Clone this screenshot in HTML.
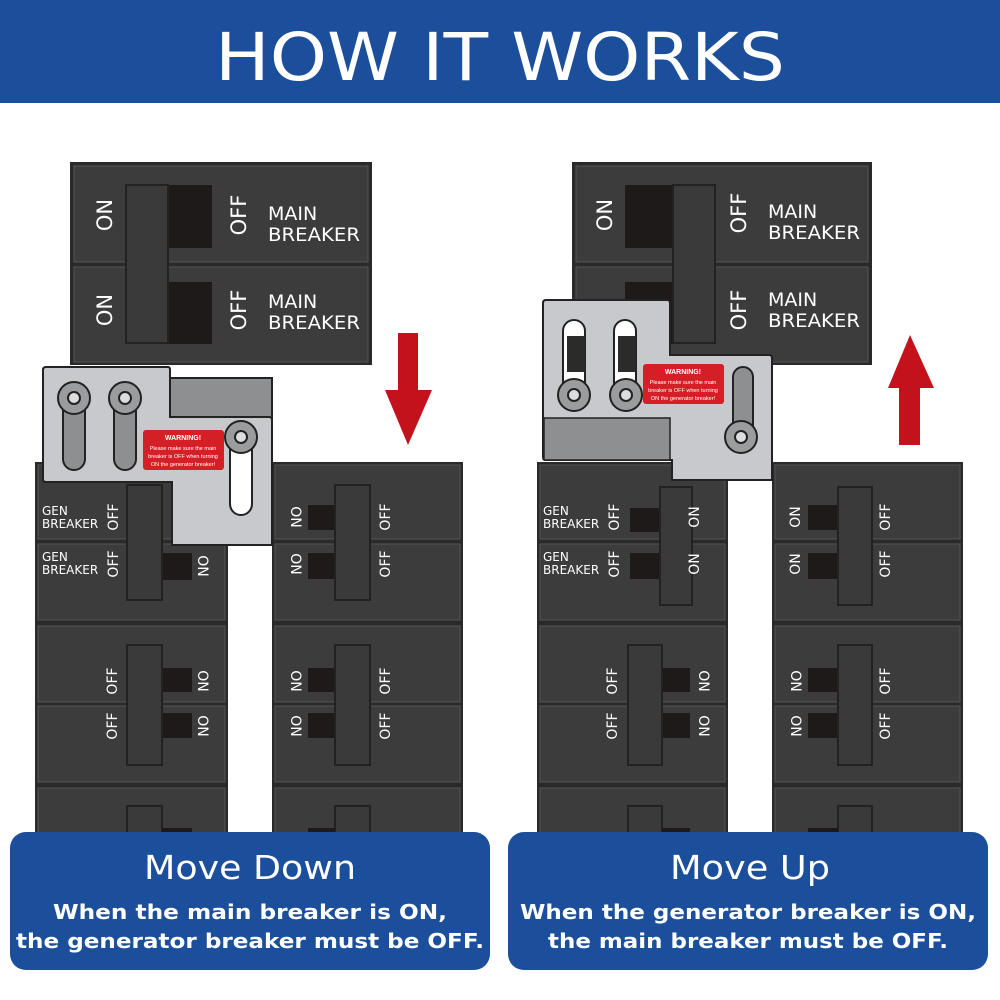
<!DOCTYPE html>
<html><head><meta charset="utf-8"><style>
html,body{margin:0;padding:0;background:#fff}
svg{display:block}
text{font-family:"DejaVu Sans","Liberation Sans",sans-serif}
.l{font-family:"Liberation Sans",sans-serif}
</style></head><body>
<svg width="1000" height="1000" viewBox="0 0 1000 1000" xmlns="http://www.w3.org/2000/svg">
<rect x="0" y="0" width="1000" height="103" fill="#1b4f9c"/>
<text x="500" y="80" text-anchor="middle" font-size="66" fill="#fff" textLength="570" lengthAdjust="spacingAndGlyphs">HOW IT WORKS</text>

<!-- ============ LEFT PANEL ============ -->
<rect x="70" y="162" width="302" height="203" fill="#2a2a2a"/>
<rect x="74" y="166" width="294" height="96" fill="#3b3c3b" stroke="#555" stroke-width="1"/>
<rect x="74" y="267" width="294" height="95" fill="#3b3c3b" stroke="#555" stroke-width="1"/>
<rect x="168" y="185" width="44" height="63" fill="#1e1a1a"/>
<rect x="168" y="282" width="44" height="62" fill="#1e1a1a"/>
<rect x="126" y="185" width="42" height="158" fill="#3a3a3a" stroke="#222" stroke-width="2"/>
<text transform="translate(112,215) rotate(-90)" text-anchor="middle" font-size="21" fill="#fff">ON</text>
<text transform="translate(112,310) rotate(-90)" text-anchor="middle" font-size="21" fill="#fff">ON</text>
<text transform="translate(246,215) rotate(-90)" text-anchor="middle" font-size="21" fill="#fff">OFF</text>
<text transform="translate(246,310) rotate(-90)" text-anchor="middle" font-size="21" fill="#fff">OFF</text>
<text x="268" y="220" font-size="19" fill="#fff">MAIN</text>
<text x="268" y="241" font-size="19" fill="#fff" textLength="92" lengthAdjust="spacingAndGlyphs">BREAKER</text>
<text x="268" y="308" font-size="19" fill="#fff">MAIN</text>
<text x="268" y="329" font-size="19" fill="#fff" textLength="92" lengthAdjust="spacingAndGlyphs">BREAKER</text>

<rect x="35" y="462" width="193" height="380" fill="#2a2a2a"/>
<rect x="272" y="462" width="191" height="380" fill="#2a2a2a"/>
<g fill="#3b3c3b" stroke="#555" stroke-width="1">
<rect x="38" y="465" width="187" height="74"/><rect x="38" y="544" width="187" height="76"/>
<rect x="38" y="626" width="187" height="76"/><rect x="38" y="706" width="187" height="76"/>
<rect x="38" y="788" width="187" height="60"/>
<rect x="275" y="465" width="185" height="74"/><rect x="275" y="544" width="185" height="76"/>
<rect x="275" y="626" width="185" height="76"/><rect x="275" y="706" width="185" height="76"/>
<rect x="275" y="788" width="185" height="60"/>
</g>
<rect x="162" y="553" width="30" height="27" fill="#1e1a1a"/>
<rect x="127" y="485" width="35" height="115" fill="#3a3a3a" stroke="#222" stroke-width="2"/>
<g font-size="12" fill="#fff">
<text x="42" y="515">GEN</text><text x="42" y="528">BREAKER</text>
<text x="42" y="561">GEN</text><text x="42" y="574">BREAKER</text>
</g>
<g font-size="14" fill="#fff" text-anchor="middle">
<text transform="translate(118,517) rotate(-90)">OFF</text>
<text transform="translate(118,564) rotate(-90)">OFF</text>
<text transform="translate(198,566) rotate(90)">ON</text>
<text transform="translate(117,681) rotate(-90)">OFF</text>
<text transform="translate(117,726) rotate(-90)">OFF</text>
<text transform="translate(198,681) rotate(90)">ON</text>
<text transform="translate(198,726) rotate(90)">ON</text>
<text transform="translate(291,517) rotate(90)">ON</text><text transform="translate(291,564) rotate(90)">ON</text>
<text transform="translate(291,681) rotate(90)">ON</text><text transform="translate(291,726) rotate(90)">ON</text>
<text transform="translate(390,517) rotate(-90)">OFF</text><text transform="translate(390,564) rotate(-90)">OFF</text>
<text transform="translate(390,681) rotate(-90)">OFF</text><text transform="translate(390,726) rotate(-90)">OFF</text>
</g>
<rect x="162" y="668" width="30" height="24" fill="#1e1a1a"/><rect x="162" y="713" width="30" height="25" fill="#1e1a1a"/>
<rect x="127" y="645" width="35" height="120" fill="#3a3a3a" stroke="#222" stroke-width="2"/>
<rect x="127" y="806" width="35" height="40" fill="#3a3a3a" stroke="#222" stroke-width="2"/><rect x="162" y="828" width="30" height="15" fill="#1e1a1a"/>
<rect x="308" y="505" width="27" height="25" fill="#1e1a1a"/><rect x="308" y="553" width="27" height="26" fill="#1e1a1a"/>
<rect x="335" y="485" width="35" height="115" fill="#3a3a3a" stroke="#222" stroke-width="2"/>
<rect x="308" y="668" width="27" height="24" fill="#1e1a1a"/><rect x="308" y="713" width="27" height="25" fill="#1e1a1a"/>
<rect x="335" y="645" width="35" height="120" fill="#3a3a3a" stroke="#222" stroke-width="2"/>
<rect x="335" y="806" width="35" height="40" fill="#3a3a3a" stroke="#222" stroke-width="2"/><rect x="308" y="828" width="27" height="15" fill="#1e1a1a"/>

<rect x="170" y="378" width="102" height="40" fill="#8d8f91" stroke="#222" stroke-width="2"/>
<path d="M46,367 H168 Q170,367 170,370 V417 H269 Q272,417 272,420 V545 H172 V482 H46 Q43,482 43,479 V370 Q43,367 46,367Z" fill="#c7c9cc" stroke="#222" stroke-width="2"/>
<g stroke="#222" stroke-width="2">
<rect x="63" y="398" width="22" height="72" rx="11" fill="#8d8f91"/>
<rect x="114" y="398" width="22" height="72" rx="11" fill="#8d8f91"/>
<rect x="230" y="437" width="22" height="78" rx="11" fill="#fff"/>
<circle cx="74" cy="398" r="16" fill="#9a9c9e"/><circle cx="125" cy="398" r="16" fill="#9a9c9e"/><circle cx="241" cy="437" r="16" fill="#9a9c9e"/>
<circle cx="74" cy="398" r="6" fill="#ddd"/><circle cx="125" cy="398" r="6" fill="#ddd"/><circle cx="241" cy="437" r="6" fill="#ddd"/>
</g>
<rect x="143" y="430" width="81" height="40" rx="3" fill="#d51f27"/>
<g class="l" fill="#fff" text-anchor="middle">
<text class="l" x="183" y="440" font-size="7" font-weight="bold">WARNING!</text>
<text class="l" x="183" y="450" font-size="5.5">Please make sure the main</text>
<text class="l" x="183" y="458" font-size="5.5">breaker is OFF when turning</text>
<text class="l" x="183" y="466" font-size="5.5">ON the generator breaker!</text>
</g>
<path d="M398,333 H418 V390 H432 L408,445 L385,390 H398Z" fill="#c3121b"/>

<!-- ============ RIGHT PANEL ============ -->
<rect x="572" y="162" width="300" height="203" fill="#2a2a2a"/>
<rect x="576" y="166" width="292" height="96" fill="#3b3c3b" stroke="#555" stroke-width="1"/>
<rect x="576" y="267" width="292" height="95" fill="#3b3c3b" stroke="#555" stroke-width="1"/>
<rect x="625" y="185" width="48" height="63" fill="#1e1a1a"/>
<rect x="625" y="282" width="48" height="62" fill="#1e1a1a"/>
<rect x="673" y="185" width="42" height="158" fill="#3a3a3a" stroke="#222" stroke-width="2"/>
<text transform="translate(612,215) rotate(-90)" text-anchor="middle" font-size="21" fill="#fff">ON</text>
<text transform="translate(746,213) rotate(-90)" text-anchor="middle" font-size="21" fill="#fff">OFF</text>
<text transform="translate(746,310) rotate(-90)" text-anchor="middle" font-size="21" fill="#fff">OFF</text>
<text x="768" y="218" font-size="19" fill="#fff">MAIN</text>
<text x="768" y="239" font-size="19" fill="#fff" textLength="92" lengthAdjust="spacingAndGlyphs">BREAKER</text>
<text x="768" y="306" font-size="19" fill="#fff">MAIN</text>
<text x="768" y="327" font-size="19" fill="#fff" textLength="92" lengthAdjust="spacingAndGlyphs">BREAKER</text>

<rect x="537" y="462" width="191" height="380" fill="#2a2a2a"/>
<rect x="772" y="462" width="191" height="380" fill="#2a2a2a"/>
<g fill="#3b3c3b" stroke="#555" stroke-width="1">
<rect x="540" y="465" width="185" height="74"/><rect x="540" y="544" width="185" height="76"/>
<rect x="540" y="626" width="185" height="76"/><rect x="540" y="706" width="185" height="76"/>
<rect x="540" y="788" width="185" height="60"/>
<rect x="775" y="465" width="185" height="74"/><rect x="775" y="544" width="185" height="76"/>
<rect x="775" y="626" width="185" height="76"/><rect x="775" y="706" width="185" height="76"/>
<rect x="775" y="788" width="185" height="60"/>
</g>
<rect x="630" y="508" width="30" height="24" fill="#1e1a1a"/><rect x="630" y="553" width="30" height="26" fill="#1e1a1a"/>
<rect x="660" y="487" width="32" height="118" fill="#3a3a3a" stroke="#222" stroke-width="2"/>
<g font-size="12" fill="#fff">
<text x="543" y="515">GEN</text><text x="543" y="528">BREAKER</text>
<text x="543" y="561">GEN</text><text x="543" y="574">BREAKER</text>
</g>
<g font-size="14" fill="#fff" text-anchor="middle">
<text transform="translate(619,517) rotate(-90)">OFF</text><text transform="translate(619,564) rotate(-90)">OFF</text>
<text transform="translate(699,517) rotate(-90)">ON</text><text transform="translate(699,564) rotate(-90)">ON</text>
<text transform="translate(617,681) rotate(-90)">OFF</text><text transform="translate(617,726) rotate(-90)">OFF</text>
<text transform="translate(699,681) rotate(90)">ON</text><text transform="translate(699,726) rotate(90)">ON</text>
<text transform="translate(800,517) rotate(-90)">ON</text><text transform="translate(800,564) rotate(-90)">ON</text>
<text transform="translate(791,681) rotate(90)">ON</text><text transform="translate(791,726) rotate(90)">ON</text>
<text transform="translate(890,517) rotate(-90)">OFF</text><text transform="translate(890,564) rotate(-90)">OFF</text>
<text transform="translate(890,681) rotate(-90)">OFF</text><text transform="translate(890,726) rotate(-90)">OFF</text>
</g>
<rect x="662" y="668" width="28" height="24" fill="#1e1a1a"/><rect x="662" y="713" width="28" height="25" fill="#1e1a1a"/>
<rect x="628" y="645" width="34" height="120" fill="#3a3a3a" stroke="#222" stroke-width="2"/>
<rect x="628" y="806" width="34" height="40" fill="#3a3a3a" stroke="#222" stroke-width="2"/><rect x="662" y="828" width="28" height="15" fill="#1e1a1a"/>
<rect x="808" y="505" width="30" height="25" fill="#1e1a1a"/><rect x="808" y="553" width="30" height="26" fill="#1e1a1a"/>
<rect x="838" y="487" width="34" height="118" fill="#3a3a3a" stroke="#222" stroke-width="2"/>
<rect x="808" y="668" width="30" height="24" fill="#1e1a1a"/><rect x="808" y="713" width="30" height="25" fill="#1e1a1a"/>
<rect x="838" y="645" width="34" height="120" fill="#3a3a3a" stroke="#222" stroke-width="2"/>
<rect x="838" y="806" width="34" height="40" fill="#3a3a3a" stroke="#222" stroke-width="2"/><rect x="808" y="828" width="30" height="15" fill="#1e1a1a"/>

<path d="M546,300 H667 Q670,300 670,303 V355 H769 Q772,355 772,358 V480 H672 V460 H546 Q543,460 543,457 V303 Q543,300 546,300Z" fill="#c7c9cc" stroke="#222" stroke-width="2"/>
<rect x="544" y="418" width="126" height="42" fill="#8d8f91" stroke="#222" stroke-width="1.5"/>
<g stroke="#222" stroke-width="2">
<rect x="563" y="320" width="22" height="76" rx="11" fill="#fff"/>
<rect x="614" y="320" width="22" height="76" rx="11" fill="#fff"/>
<path d="M567,336 V372 H585 V336" fill="#2b2b2b" stroke="none"/>
<path d="M618,336 V372 H636 V336" fill="#2b2b2b" stroke="none"/>
<rect x="733" y="367" width="20" height="72" rx="10" fill="#8d8f91"/>
<circle cx="574" cy="395" r="16" fill="#9a9c9e"/><circle cx="626" cy="395" r="16" fill="#9a9c9e"/><circle cx="741" cy="437" r="16" fill="#9a9c9e"/>
<circle cx="574" cy="395" r="6" fill="#ddd"/><circle cx="626" cy="395" r="6" fill="#ddd"/><circle cx="741" cy="437" r="6" fill="#ddd"/>
</g>
<rect x="643" y="364" width="81" height="40" rx="3" fill="#d51f27"/>
<g fill="#fff" text-anchor="middle">
<text class="l" x="683" y="374" font-size="7" font-weight="bold">WARNING!</text>
<text class="l" x="683" y="384" font-size="5.5">Please make sure the main</text>
<text class="l" x="683" y="392" font-size="5.5">breaker is OFF when turning</text>
<text class="l" x="683" y="400" font-size="5.5">ON the generator breaker!</text>
</g>
<path d="M899,445 V388 H888 L910,335 L934,388 H920 V445Z" fill="#c3121b"/>

<rect x="10" y="832" width="480" height="138" rx="16" fill="#1b4f9c"/>
<rect x="508" y="832" width="480" height="138" rx="16" fill="#1b4f9c"/>
<g fill="#fff" text-anchor="middle">
<text x="250" y="879" font-size="33" textLength="212" lengthAdjust="spacingAndGlyphs">Move Down</text>
<text x="250" y="919" font-size="20" font-weight="bold" textLength="394" lengthAdjust="spacingAndGlyphs">When the main breaker is ON,</text>
<text x="250" y="948" font-size="20" font-weight="bold" textLength="468" lengthAdjust="spacingAndGlyphs">the generator breaker must be OFF.</text>
<text x="750" y="879" font-size="33" textLength="160" lengthAdjust="spacingAndGlyphs">Move Up</text>
<text x="748" y="919" font-size="20" font-weight="bold" textLength="456" lengthAdjust="spacingAndGlyphs">When the generator breaker is ON,</text>
<text x="748" y="948" font-size="20" font-weight="bold" textLength="400" lengthAdjust="spacingAndGlyphs">the main breaker must be OFF.</text>
</g>
</svg>
</body></html>
